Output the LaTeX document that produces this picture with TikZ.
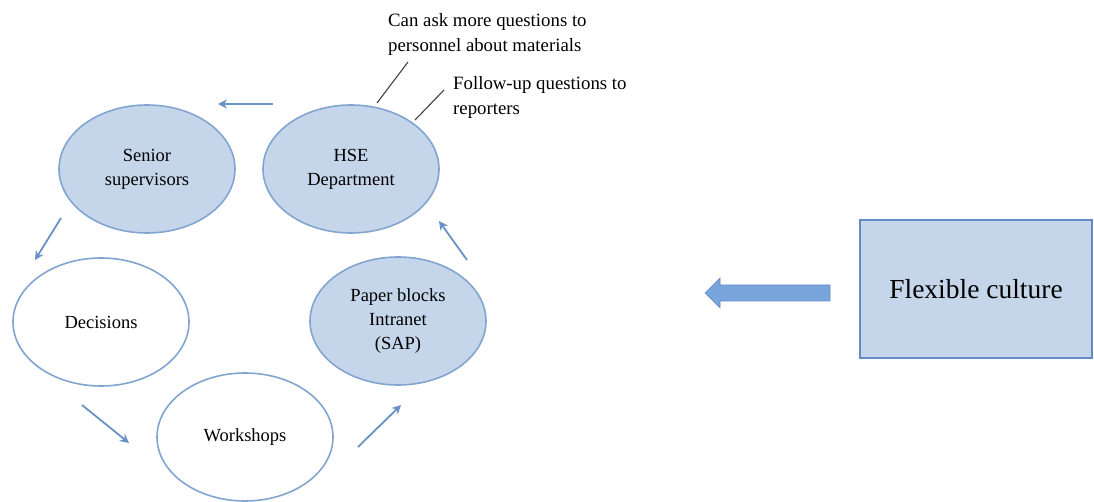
\documentclass[tikz,border=0pt]{standalone}
\usepackage{fontspec}
\setmainfont{Liberation Serif}
\definecolor{efill}{RGB}{197,214,234}
\definecolor{edraw}{RGB}{130,165,208}
\definecolor{arr}{RGB}{105,145,195}
\definecolor{barr}{RGB}{120,165,220}
\definecolor{bdraw}{RGB}{100,140,195}
\begin{document}
\begin{tikzpicture}[x=1pt,y=-1pt,
  cyc/.style={ellipse,draw=edraw,line width=1.6pt,minimum width=176pt,minimum height=128pt,inner sep=0pt,align=center,font=\fontsize{18.5}{24}\selectfont},
  filled/.style={cyc,fill=efill},
  open/.style={cyc,fill=white},
  flow/.style={draw=arr,line width=1.8pt,-{Stealth[length=9pt,width=9pt]}},
  note/.style={align=left,anchor=north west,inner sep=0pt,font=\fontsize{18.8}{25}\selectfont},
  tick/.style={draw=black!75,line width=1.1pt}]
\useasboundingbox (0,0) rectangle (1094,502);
\usetikzlibrary{shapes.geometric,arrows.meta}
\node[filled] (sen) at (147,169) {Senior\\supervisors};
\node[filled] (hse) at (351,169) {HSE\\Department};
\node[open] (dec) at (101,322) {Decisions};
\node[filled] (pap) at (398,321) {Paper blocks\\Intranet\\(SAP)};
\node[open] (wor) at (245,437) {Workshops};
\coordinate (a1s) at (273,104); \coordinate (a1e) at (218,104);
\coordinate (a2s) at (61,218);  \coordinate (a2e) at (35,260);
\coordinate (a3s) at (82,405);  \coordinate (a3e) at (129,443);
\coordinate (a4s) at (358,447); \coordinate (a4e) at (401,405);
\coordinate (a5s) at (467,260); \coordinate (a5e) at (439,221);
\draw[flow] (a1s) -- (a1e);
\draw[flow] (a2s) -- (a2e);
\draw[flow] (a3s) -- (a3e);
\draw[flow] (a4s) -- (a4e);
\draw[flow] (a5s) -- (a5e);
\node[note] (n1) at (388,13) {Can ask more questions to\\personnel about materials};
\node[note] (n2) at (453,76) {Follow-up questions to\\reporters};
\coordinate (t1a) at (377,103); \coordinate (t1b) at (408,62);
\coordinate (t2a) at (415,120); \coordinate (t2b) at (444,90);
\draw[tick] (t1a) -- (t1b);
\draw[tick] (t2a) -- (t2b);
\node[draw=bdraw,fill=efill,line width=1.4pt,minimum width=232pt,minimum height=138pt,inner sep=0pt,font=\fontsize{27.5}{32}\selectfont] (flex) at (976,289) {Flexible culture};
\fill[barr,draw=bdraw,line width=0.6pt] (830,285) -- (720,285) -- (720,278) -- (705,293) -- (720,308) -- (720,301) -- (830,301) -- cycle;
\end{tikzpicture}
\end{document}
